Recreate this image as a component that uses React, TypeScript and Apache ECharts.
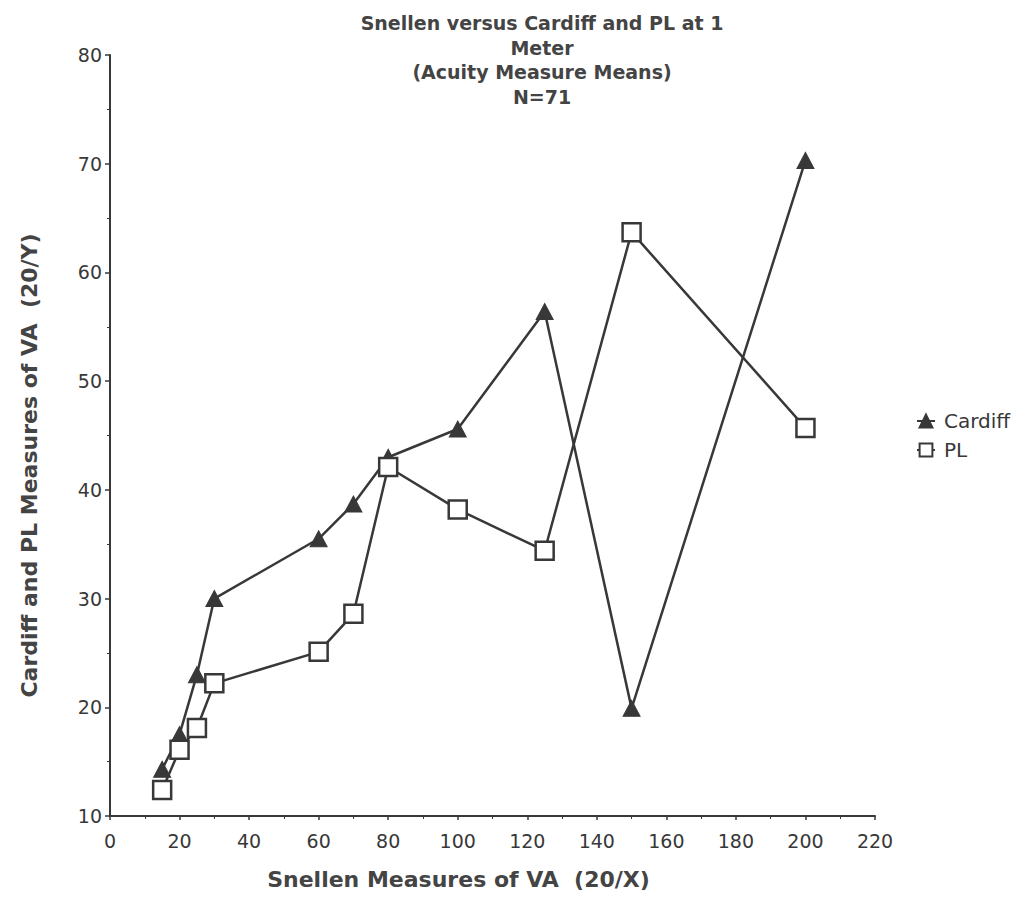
import React, { useEffect, useRef } from "react";
import * as echarts from "echarts";

const snellenX = [15, 20, 25, 30, 60, 70, 80, 100, 125, 150, 200];
const cardiffY = [14.3, 17.5, 23.0, 30.0, 35.5, 38.7, 43.0, 45.6, 56.4, 19.9, 70.3];
const plY = [12.4, 16.1, 18.1, 22.2, 25.1, 28.6, 42.1, 38.2, 34.4, 63.7, 45.7];
const titleLines = ["Snellen versus Cardiff and PL at 1", "Meter", "(Acuity Measure Means)", "N=71"];
const xAxisName = "Snellen Measures of VA  (20/X)";
const yAxisName = "Cardiff and PL Measures of VA  (20/Y)";

const FONT = "'DejaVu Sans', 'Liberation Sans', Arial, sans-serif";
const INK = "#383838";

export default function App() {
  const ref = useRef<HTMLDivElement>(null);
  useEffect(() => {
    if (!ref.current) return;
    const chart = echarts.init(ref.current, undefined, { renderer: "svg" });
    const cardiffData = snellenX.map((x, i) => [x, cardiffY[i]]);
    const plData = snellenX.map((x, i) => [x, plY[i]]);
    chart.setOption({
      animation: false,
      backgroundColor: "#ffffff",
      textStyle: { fontFamily: FONT },
      title: {
        text: titleLines.join("\n"),
        left: 529,
        top: -2,
        textAlign: "center",
        textStyle: { fontFamily: FONT, fontSize: 19, fontWeight: "bold", color: "#444444", lineHeight: 24.5 },
      },
      legend: {
        orient: "vertical",
        left: 903,
        top: 398,
        itemGap: 9,
        itemWidth: 18,
        itemHeight: 16,
        textStyle: { fontFamily: FONT, fontSize: 20, color: INK, padding: [0, 0, 0, 4] },
        data: [{ name: "Cardiff" }, { name: "PL" }],
      },
      grid: { left: 102, top: 47, right: 140, bottom: 73, containLabel: false },
      xAxis: {
        type: "value",
        min: 0,
        max: 220,
        interval: 20,
        name: xAxisName,
        nameLocation: "middle",
        nameGap: 52,
        nameTextStyle: { fontFamily: FONT, fontSize: 22, fontWeight: "bold", color: "#444444", padding: [0, 68, 0, 0] },
        axisLine: { show: true, onZero: false, lineStyle: { color: INK, width: 2 } },
        axisTick: { show: true, length: 4, lineStyle: { color: INK, width: 1.5 } },
        minorTick: { show: true, splitNumber: 2, length: 3, lineStyle: { color: INK, width: 1 } },
        axisLabel: { fontFamily: FONT, fontSize: 19, color: INK, margin: 15 },
        splitLine: { show: false },
      },
      yAxis: {
        type: "value",
        min: 10,
        max: 80,
        interval: 10,
        name: yAxisName,
        nameLocation: "middle",
        nameGap: 70,
        nameTextStyle: { fontFamily: FONT, fontSize: 22, fontWeight: "bold", color: "#444444", padding: [0, 60, 0, 0] },
        axisLine: { show: true, onZero: false, lineStyle: { color: INK, width: 2 } },
        axisTick: { show: true, length: 5, lineStyle: { color: INK, width: 1.5 } },
        minorTick: { show: true, splitNumber: 2, length: 3, lineStyle: { color: INK, width: 1 } },
        axisLabel: { fontFamily: FONT, fontSize: 19, color: INK, margin: 8 },
        splitLine: { show: false },
      },
      series: [
        {
          name: "Cardiff",
          type: "line",
          data: cardiffData,
          symbol: "triangle",
          symbolSize: [17, 16],
          showAllSymbol: true,
          lineStyle: { color: INK, width: 2.5 },
          itemStyle: { color: INK, borderColor: INK, borderWidth: 1 },
          z: 3,
        },
        {
          name: "PL",
          type: "line",
          data: plData,
          symbol: "rect",
          symbolSize: 18,
          showAllSymbol: true,
          lineStyle: { color: INK, width: 2.5 },
          itemStyle: { color: "#ffffff", borderColor: INK, borderWidth: 2.5 },
          z: 4,
        },
      ],
    });
    return () => chart.dispose();
  }, []);
  return <div ref={ref} style={{ width: 1007, height: 887 }} />;
}
